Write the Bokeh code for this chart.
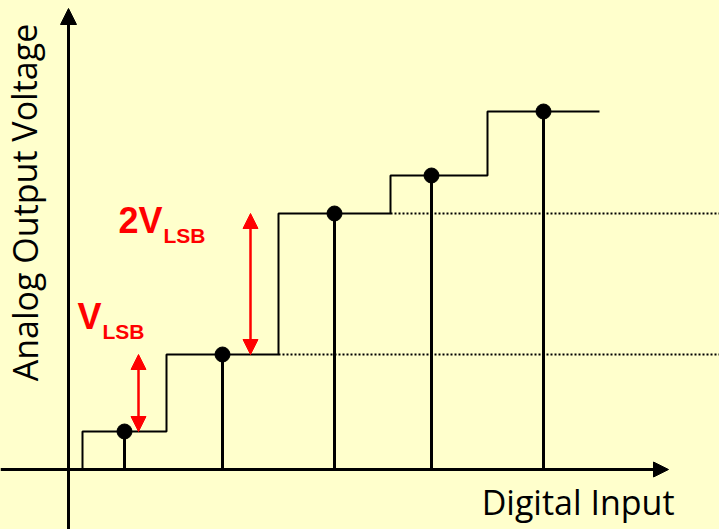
from bokeh.plotting import figure
from bokeh.models import Arrow, NormalHead, Label, Range1d, GlobalInlineStyleSheet
from bokeh.embed import file_html
from bokeh.resources import INLINE

# ---- data (arbitrary units) ----
step_edges = [0.14, 0.98, 2.10, 3.22, 4.19, 5.31]   # code boundaries
sample_x = [0.56, 1.54, 2.66, 3.63, 4.75]           # digital input codes (sample points)
levels = [0.38, 1.15, 2.56, 2.94, 3.58]             # analog output levels
x_label = "Digital Input"
y_label = "Analog Output Voltage"
lsb_label = ["V", "LSB"]
lsb2_label = ["2V", "LSB"]

BG = "#FFFFCC"
RED = "#FF0000"

p = figure(width=719, height=529, x_range=Range1d(-0.68, 6.51), y_range=Range1d(-0.60, 4.69),
           output_backend="svg", toolbar_location=None, min_border=0,
           x_axis_type=None, y_axis_type=None,
           background_fill_color=BG, border_fill_color=BG, outline_line_color=None)
p.grid.visible = False
p.stylesheets = [GlobalInlineStyleSheet(css="html,body{margin:0;padding:0;background:#FFFFCC;overflow:hidden;}")]

# staircase path built from the data
sx, sy = [step_edges[0]], [0.0]
for i, lv in enumerate(levels):
    sx += [step_edges[i], step_edges[i + 1]]
    sy += [lv, lv]
p.line(sx, sy, line_color="black", line_width=2)

# dotted reference lines at the two levels bounding 2 LSB
p.segment(x0=[step_edges[2], step_edges[3]], y0=[levels[1], levels[2]],
          x1=[7.0, 7.0], y1=[levels[1], levels[2]],
          line_color="black", line_width=2, line_dash="2 2")

# stems and sample dots
p.segment(x0=sample_x, y0=[0] * len(sample_x), x1=sample_x, y1=levels, line_color="black", line_width=3)
p.scatter(sample_x, levels, size=15, color="black")

# axes with arrow heads
p.add_layout(Arrow(x_start=0, y_start=-0.60, x_end=0, y_end=4.61, line_width=3, line_color="black",
                   end=NormalHead(size=16, fill_color="black", line_color="black", line_width=1)))
p.add_layout(Arrow(x_start=-0.68, y_start=0, x_end=6.00, y_end=0, line_width=3, line_color="black",
                   end=NormalHead(size=15, fill_color="black", line_color="black", line_width=1)))

# red double arrows
for xa, y0, y1 in [(0.70, levels[0], levels[1]), (1.82, levels[1], levels[2])]:
    p.add_layout(Arrow(x_start=xa, y_start=y0, x_end=xa, y_end=y1, line_width=2.5, line_color=RED,
                       start=NormalHead(size=15, fill_color=RED, line_color=RED, line_width=1),
                       end=NormalHead(size=15, fill_color=RED, line_color=RED, line_width=1)))

# labels
H = 529
p.add_layout(Label(x=674, y=H - 514 + 13, x_units="screen", y_units="screen", text=x_label,
                   text_font="Open Sans", text_font_size="34px", text_color="black",
                   text_align="right", text_baseline="alphabetic"))
p.add_layout(Label(x=37 - 13, y=H - 202, x_units="screen", y_units="screen", text=y_label, angle=1.5708,
                   text_font="Open Sans", text_font_size="34px", text_color="black",
                   text_align="center", text_baseline="alphabetic"))

def red_label(x, y, main, sub, sub_dx):
    p.add_layout(Label(x=x, y=H - y + 16, x_units="screen", y_units="screen", text=main,
                       text_font="Liberation Sans", text_font_size="36px", text_font_style="bold",
                       text_color=RED, text_align="left", text_baseline="alphabetic"))
    p.add_layout(Label(x=x + sub_dx, y=H - y - 8 + 9, x_units="screen", y_units="screen", text=sub,
                       text_font="Liberation Sans", text_font_size="21px", text_font_style="bold",
                       text_color=RED, text_align="left", text_baseline="alphabetic"))

red_label(77, 332, lsb_label[0], lsb_label[1], 25)
red_label(118, 236, lsb2_label[0], lsb2_label[1], 45)

open("out.html", "w").write(file_html(p, INLINE))
